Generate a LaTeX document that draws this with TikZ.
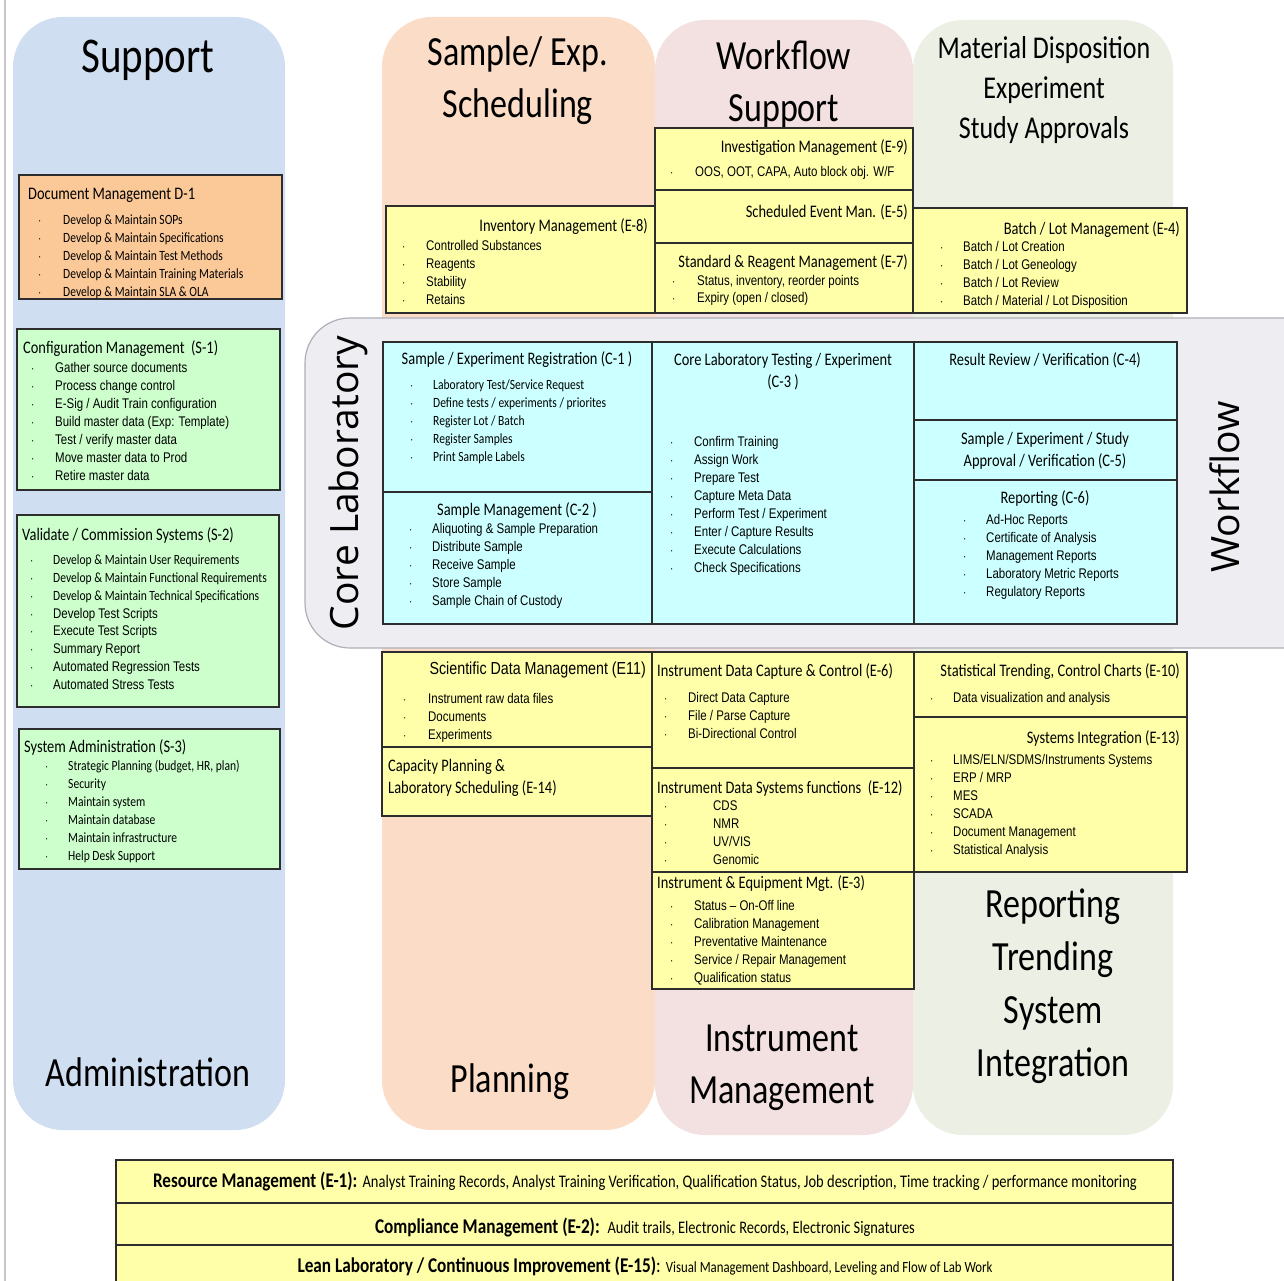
\documentclass[tikz,border=0pt]{standalone}
\usepackage{fontspec}
\setmainfont[FakeStretch=0.82]{Carlito}
\newfontfamily\narrowsans[FakeStretch=0.82]{Liberation Sans}
\newfontfamily\bandfont{Open Sans}

\definecolor{supportbg}{RGB}{207,222,240}
\definecolor{schedbg}{RGB}{251,220,199}
\definecolor{wfbg}{RGB}{243,224,224}
\definecolor{matbg}{RGB}{235,239,228}
\definecolor{corebg}{RGB}{238,238,242}
\definecolor{coreline}{RGB}{175,175,185}
\definecolor{boxyellow}{RGB}{255,255,170}
\definecolor{boxcyan}{RGB}{204,255,255}
\definecolor{boxgreen}{RGB}{204,255,204}
\definecolor{boxorange}{RGB}{251,200,152}
\definecolor{boxline}{RGB}{45,45,45}

\tikzset{
  lane/.style={rounded corners=50pt},
  panel/.style={draw=boxline, line width=1.3pt},
  ttl/.style={inner sep=0pt, font=\fontsize{17.6}{22.5}\selectfont},
  ttlw/.style={ttl, anchor=mid west, yshift=-3pt},
  ttle/.style={ttl, anchor=mid east, yshift=-3pt},
  itn/.style={inner sep=0pt, anchor=mid west, yshift=-2pt, font=\narrowsans\fontsize{14}{16}\selectfont},
  itc/.style={inner sep=0pt, anchor=mid west, yshift=-2pt, font=\fontsize{14.1}{16}\selectfont},
  dot/.style={inner sep=0pt, anchor=mid west, yshift=-2pt, font=\narrowsans\fontsize{12}{14}\selectfont},
  hdr/.style={inner sep=0pt, align=center, font=\fontsize{41.5}{52}\selectfont},
  band/.style={inner sep=0pt, rotate=90, font=\bandfont\fontsize{39}{39}\selectfont},
  foot/.style={inner sep=0pt},
}

% bulleted list: name, style, bullet x, text x, first y, step, entries
\newcommand\itemlist[7]{%
  \foreach \txt [count=\k from 0] in {#7} {
    \node[dot] (#1b\k) at (#3, #5+\k*#6) {·};
    \node[#2] (#1t\k) at (#4, #5+\k*#6) {\txt};
  }}

\begin{document}
\begin{tikzpicture}[x=1pt, y=-1pt]
\useasboundingbox (0,0) rectangle (1284,1281);
\fill[white] (0,0) rectangle (1284,1281);
\draw[black!22, line width=2pt] (5,0) -- (5,1281);

% lanes
\fill[supportbg, lane] (13,17) rectangle (285,1130);
\fill[schedbg, lane] (382,17) rectangle (655,1130);
\fill[wfbg, lane] (655,20) rectangle (913,1135);
\fill[matbg, lane] (913,20) rectangle (1173,1135);

% core laboratory band
\draw[fill=corebg, draw=coreline, line width=1.2pt, rounded corners=45pt] (305,318) rectangle (1330,648);

% lane headers
\node[hdr, font=\fontsize{50}{56}\selectfont] (hsupport) at (148,60) {Support};
\node[hdr] (hsched) at (518,81) {Sample/ Exp.\\Scheduling};
\node[hdr] (hwfs) at (784,84) {Workflow\\Support};
\node[hdr, font=\fontsize{31.7}{40}\selectfont] (hmat) at (1044,90) {Material Disposition\\Experiment\\Study Approvals};
\node[hdr] (hadmin) at (148,1072) {Administration};
\node[hdr] (hplan) at (510,1082) {Planning};
\node[hdr] (hinst) at (782,1068) {Instrument\\Management};
\node[hdr, font=\fontsize{41.5}{53}\selectfont] (hrep) at (1053,986) {Reporting\\Trending\\System\\Integration};

\node[band] (corelab) at (348,483) {Core Laboratory};
\node[band] (wflow) at (1225,487) {Workflow};

% support lane boxes
\path[panel, fill=boxorange] (19,175) rectangle (282,299);
\node[ttlw] (d1) at (28,194) {Document Management D-1};
\itemlist{d1}{itc}{38}{63}{220}{18}{Develop \& Maintain SOPs, Develop \& Maintain Specifications, Develop \& Maintain Test Methods, Develop \& Maintain Training Materials, Develop \& Maintain SLA \& OLA}

\path[panel, fill=boxgreen] (17,329) rectangle (280,490);
\node[ttlw] (s1) at (23,348) {Configuration Management\ \ (S-1)};
\itemlist{s1}{itn}{31}{55}{368}{18}{Gather source documents, Process change control, E-Sig / Audit Train configuration, Build master data (Exp: Template), Test / verify master data, Move master data to Prod, Retire master data}

\path[panel, fill=boxgreen] (17,515) rectangle (279,707);
\node[ttlw] (s2) at (22,535) {Validate / Commission Systems (S-2)};
\itemlist{s2a}{itc}{30}{53}{560}{17.9}{Develop \& Maintain User Requirements, Develop \& Maintain Functional Requirements, Develop \& Maintain Technical Specifications}
\itemlist{s2b}{itn}{30}{53}{613.7}{17.9}{Develop Test Scripts, Execute Test Scripts, Summary Report, Automated Regression Tests, Automated Stress Tests}

\path[panel, fill=boxgreen] (19,729) rectangle (280,869);
\node[ttlw] (s3) at (24,747) {System Administration (S-3)};
\itemlist{s3}{itc}{45}{68}{766}{18}{{Strategic Planning (budget, HR, plan)}, Security, Maintain system, Maintain database, Maintain infrastructure, Help Desk Support}

% upper enterprise boxes
\path[panel, fill=boxyellow] (386,206) rectangle (655,313);
\node[ttle] (e8) at (648,226) {Inventory Management (E-8)};
\itemlist{e8}{itn}{402}{426}{246}{18}{Controlled Substances, Reagents, Stability, Retains}

\path[panel, fill=boxyellow] (655,128) rectangle (913,190);
\node[ttle] (e9) at (908,147) {Investigation Management (E-9)};
\itemlist{e9}{itn}{670}{695}{172}{18}{{OOS, OOT, CAPA, Auto block obj. W/F}}

\path[panel, fill=boxyellow] (655,190) rectangle (913,243);
\node[ttle] (e5) at (908,212) {Scheduled Event Man. (E-5)};

\path[panel, fill=boxyellow] (655,243) rectangle (913,313);
\node[ttle] (e7) at (908,262) {Standard \& Reagent Management (E-7)};
\itemlist{e7}{itn}{672}{697}{281}{17.5}{{Status, inventory, reorder points}, Expiry (open / closed)}

\path[panel, fill=boxyellow] (913,208) rectangle (1187,313);
\node[ttle] (e4) at (1180,229) {Batch / Lot Management (E-4)};
\itemlist{e4}{itn}{940}{963}{247}{18}{Batch / Lot Creation, Batch / Lot Geneology, Batch / Lot Review, Batch / Material / Lot Disposition}

% core laboratory boxes
\path[panel, fill=boxcyan] (383,342) rectangle (652,492);
\node[ttl] (c1) at (517,360) {Sample / Experiment Registration (C-1 )};
\itemlist{c1}{itc}{410}{433}{385}{18}{Laboratory Test/Service Request, Define tests / experiments / priorites, Register Lot / Batch, Register Samples, Print Sample Labels}

\path[panel, fill=boxcyan] (383,492) rectangle (652,624);
\node[ttl] (c2) at (517,511) {Sample Management (C-2 )};
\itemlist{c2}{itn}{409}{432}{529}{18}{Aliquoting \& Sample Preparation, Distribute Sample, Receive Sample, Store Sample, Sample Chain of Custody}

\path[panel, fill=boxcyan] (652,342) rectangle (914,624);
\node[ttl, align=center] (c3) at (783,371.5) {Core Laboratory Testing / Experiment\\(C-3 )};
\itemlist{c3}{itn}{670}{694}{442}{18}{Confirm Training, Assign Work, Prepare Test, Capture Meta Data, Perform Test / Experiment, Enter / Capture Results, Execute Calculations, Check Specifications}

\path[panel, fill=boxcyan] (914,342) rectangle (1177,420);
\node[ttl] (c4) at (1045,360) {Result Review / Verification (C-4)};
\path[panel, fill=boxcyan] (914,420) rectangle (1177,480);
\node[ttl, align=center] (c5) at (1045,451) {Sample / Experiment / Study\\Approval / Verification (C-5)};
\path[panel, fill=boxcyan] (914,480) rectangle (1177,624);
\node[ttl] (c6) at (1045,499) {Reporting (C-6)};
\itemlist{c6}{itn}{963}{986}{520}{18}{Ad-Hoc Reports, Certificate of Analysis, Management Reports, Laboratory Metric Reports, Regulatory Reports}

% lower enterprise boxes
\path[panel, fill=boxyellow] (382,652) rectangle (652,747);
\node[inner sep=0pt, anchor=mid east, yshift=-2pt, font=\narrowsans\fontsize{17.4}{20}\selectfont] (e11) at (646,670) {Scientific Data Management (E11)};
\itemlist{e11}{itn}{403}{428}{699}{18}{Instrument raw data files, Documents, Experiments}

\path[panel, fill=boxyellow] (382,747) rectangle (652,816);
\node[ttl, anchor=west, align=left] (e14) at (388,778) {Capacity Planning \&\\Laboratory Scheduling (E-14)};

\path[panel, fill=boxyellow] (652,652) rectangle (914,768);
\node[ttlw] (e6) at (657,671) {Instrument Data Capture \& Control (E-6)};
\itemlist{e6}{itn}{664}{688}{698}{18}{Direct Data Capture, File / Parse Capture, Bi-Directional Control}

\path[panel, fill=boxyellow] (652,768) rectangle (914,872);
\node[ttlw] (e12) at (657,788) {Instrument Data Systems functions\ \ (E-12)};
\itemlist{e12}{itn}{664}{713}{806}{18}{CDS, NMR, UV/VIS, Genomic}

\path[panel, fill=boxyellow] (652,872) rectangle (914,989);
\node[ttlw] (e3) at (657,883) {Instrument \& Equipment Mgt. (E-3)};
\itemlist{e3}{itn}{670}{694}{906}{18}{Status – On-Off line, Calibration Management, Preventative Maintenance, Service / Repair Management, Qualification status}

\path[panel, fill=boxyellow] (914,652) rectangle (1187,717);
\node[ttle] (e10) at (1180,671) {Statistical Trending, Control Charts (E-10)};
\itemlist{e10}{itn}{930}{953}{698}{18}{Data visualization and analysis}

\path[panel, fill=boxyellow] (914,717) rectangle (1187,872);
\node[ttle] (e13) at (1180,738) {Systems Integration (E-13)};
\itemlist{e13}{itn}{930}{953}{760}{18}{LIMS/ELN/SDMS/Instruments Systems, ERP / MRP, MES, SCADA, Document Management, Statistical Analysis}

% enterprise-wide bands
\path[panel, fill=boxyellow] (116,1160) rectangle (1173,1203);
\path[panel, fill=boxyellow] (116,1203) rectangle (1173,1245);
\path[panel, fill=boxyellow] (116,1245) rectangle (1173,1300);
\node[foot] (e1) at (645,1182) {\fontsize{20.8}{24}\selectfont\bfseries Resource Management (E-1): \mdseries\fontsize{17.7}{20}\selectfont Analyst Training Records, Analyst Training Verification, Qualification Status, Job description, Time tracking / performance monitoring};
\node[foot] (e2) at (645,1227) {\fontsize{21}{24}\selectfont\bfseries Compliance Management (E-2):\ \ \mdseries\fontsize{17.6}{20}\selectfont Audit trails, Electronic Records, Electronic Signatures};
\node[foot] (e15) at (645,1266) {\fontsize{21}{24}\selectfont\bfseries Lean Laboratory / Continuous Improvement (E-15)\mdseries: \fontsize{15.6}{18}\selectfont Visual Management Dashboard, Leveling and Flow of Lab Work};
\end{tikzpicture}
\end{document}
